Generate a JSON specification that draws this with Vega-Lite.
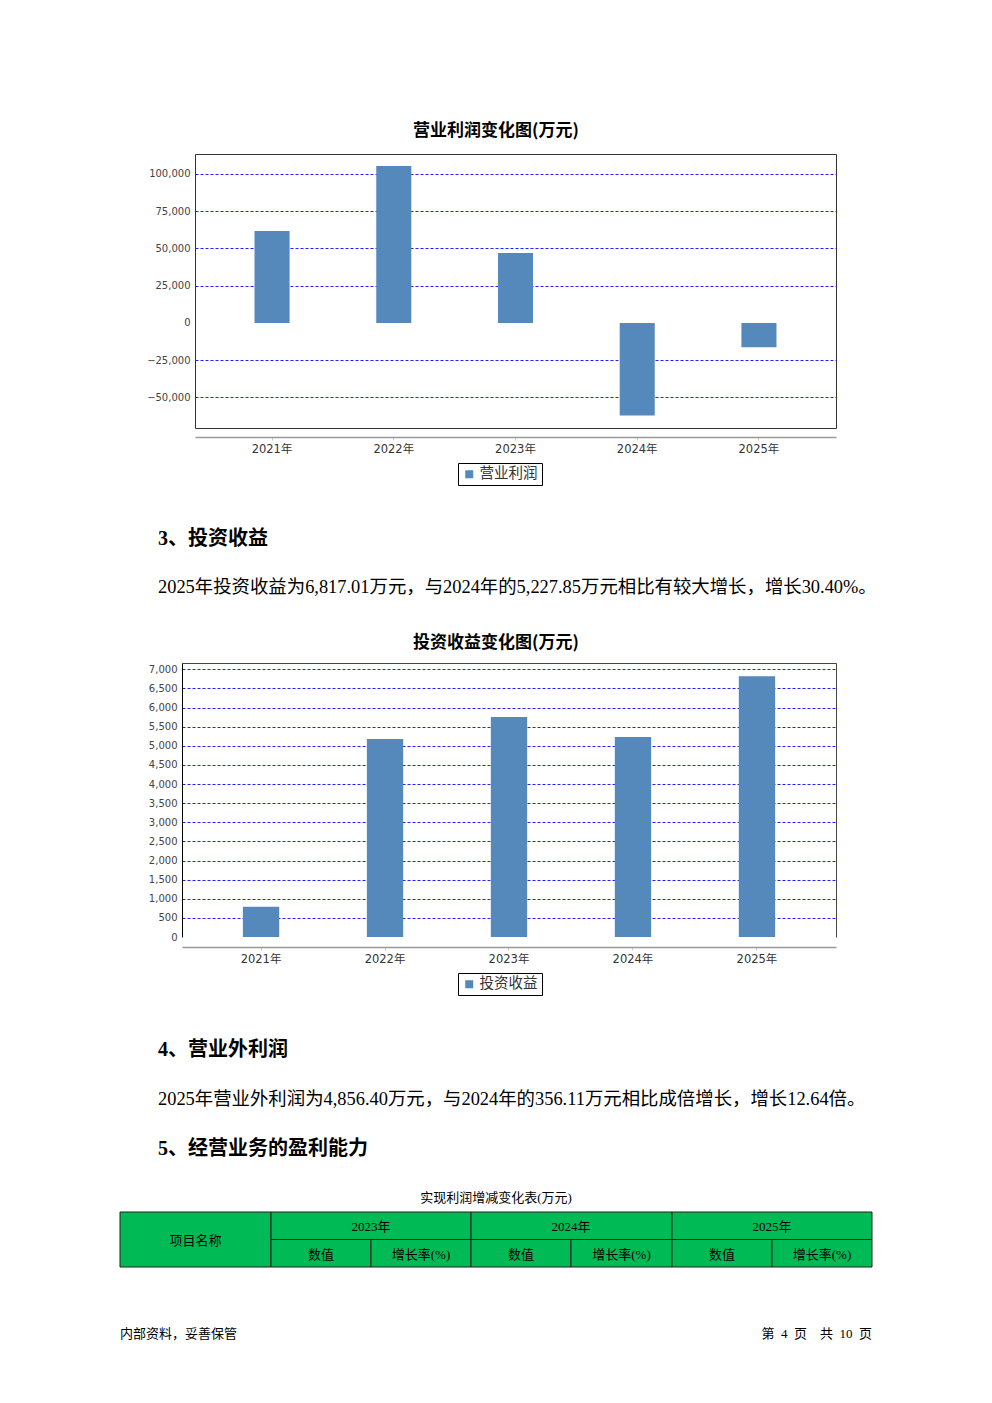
{
  "$schema": "https://vega.github.io/schema/vega-lite/v6.json",
  "padding": {"left": 119, "top": 121, "right": 0, "bottom": 0},
  "autosize": {"type": "pad"},
  "background": "white",
  "spacing": 0,
  "resolve": {"scale": {"color": "independent"}, "legend": {"color": "independent"}},
  "config": {
    "view": {"stroke": null},
    "font": "Noto Sans CJK SC",
    "title": {"color": "#000", "subtitleColor": "#000"},
    "axis": {"labelFont": "DejaVu Sans, Noto Sans CJK SC"}
  },
  "datasets": {
    "op": [
      {"year": "2021年", "value": 61700, "series": "营业利润"},
      {"year": "2022年", "value": 105400, "series": "营业利润"},
      {"year": "2023年", "value": 46900, "series": "营业利润"},
      {"year": "2024年", "value": -62000, "series": "营业利润"},
      {"year": "2025年", "value": -16300, "series": "营业利润"}
    ],
    "inv": [
      {"year": "2021年", "value": 790, "series": "投资收益"},
      {"year": "2022年", "value": 5180, "series": "投资收益"},
      {"year": "2023年", "value": 5750, "series": "投资收益"},
      {"year": "2024年", "value": 5227.85, "series": "投资收益"},
      {"year": "2025年", "value": 6817.01, "series": "投资收益"}
    ],
    "cells": [
      {"label": "项目名称", "c0": 0, "c1": 1, "r0": 0, "r1": 2},
      {"label": "2023年", "c0": 1, "c1": 3, "r0": 0, "r1": 1},
      {"label": "2024年", "c0": 3, "c1": 5, "r0": 0, "r1": 1},
      {"label": "2025年", "c0": 5, "c1": 7, "r0": 0, "r1": 1},
      {"label": "数值", "c0": 1, "c1": 2, "r0": 1, "r1": 2},
      {"label": "增长率(%)", "c0": 2, "c1": 3, "r0": 1, "r1": 2},
      {"label": "数值", "c0": 3, "c1": 4, "r0": 1, "r1": 2},
      {"label": "增长率(%)", "c0": 4, "c1": 5, "r0": 1, "r1": 2},
      {"label": "数值", "c0": 5, "c1": 6, "r0": 1, "r1": 2},
      {"label": "增长率(%)", "c0": 6, "c1": 7, "r0": 1, "r1": 2}
    ]
  },
  "vconcat": [
    {
      "width": 641,
      "height": 274,
      "view": {"stroke": "#333", "strokeWidth": 1},
      "title": {"text": "营业利润变化图(万元)", "fontSize": 17, "fontWeight": "bold", "anchor": "middle", "dx": -19.5, "offset": 14},
      "data": {"name": "op"},
      "mark": {"type": "bar", "color": "#5588bb"},
      "encoding": {
        "x": {
          "field": "year", "type": "nominal", "sort": null,
          "scale": {"paddingInner": 0.712, "paddingOuter": 0.489},
          "axis": {"title": null, "labelAngle": 0, "offset": 9, "domainColor": "#999", "domainWidth": 1.5, "tickColor": "#ccc", "tickSize": 3, "labelFontSize": 11.5, "labelColor": "#333", "labelPadding": 3}
        },
        "y": {
          "field": "value", "type": "quantitative",
          "scale": {"domain": [-70470, 113420], "nice": false, "zero": false},
          "axis": {
            "title": null, "values": [-50000, -25000, 0, 25000, 50000, 75000, 100000], "format": ",d",
            "labelFontSize": 10, "labelColor": "#444", "ticks": false, "labelPadding": 5, "domain": false,
            "grid": true, "gridColor": "#2222ff", "gridDash": [3, 2],
            "gridOpacity": {"condition": {"test": "datum.value === 0", "value": 0}, "value": 1},
            "minExtent": 74, "maxExtent": 74
          }
        },
        "y2": {"datum": 0},
        "color": {
          "field": "series", "type": "nominal", "scale": {"range": ["#5588bb"]},
          "legend": {"title": null, "orient": "none", "legendX": 263, "legendY": 309, "strokeColor": "#000", "padding": 4, "symbolType": "square", "symbolSize": 64, "symbolStrokeWidth": 0, "labelOffset": 3, "labelFontSize": 14.5, "labelColor": "#333", "labelFont": "Noto Sans CJK SC", "direction": "horizontal"}
        }
      }
    },
    {"width": 641, "height": 42, "data": {"values": []}, "mark": "point"},
    {
      "width": 641, "height": 34,
      "data": {"values": []}, "mark": "point",
      "title": {
        "text": "3、投资收益",
        "subtitle": "2025年投资收益为6,817.01万元，与2024年的5,227.85万元相比有较大增长，增长30.40%。",
        "anchor": "start", "frame": "group", "dx": -37, "offset": 4,
        "font": "Liberation Serif, Noto Sans CJK SC", "fontSize": 20, "fontWeight": "bold",
        "subtitleFont": "Liberation Serif, Noto Sans CJK SC", "subtitleFontSize": 18.4, "subtitlePadding": 29
      }
    },
    {
      "width": 641,
      "height": 274,
      "title": {"text": "投资收益变化图(万元)", "fontSize": 17, "fontWeight": "bold", "anchor": "middle", "dx": -19.5, "offset": 11},
      "data": {"name": "inv"},
      "layer": [
        {
          "mark": {"type": "bar", "color": "#5588bb"},
          "encoding": {
            "x": {
              "field": "year", "type": "nominal", "sort": null,
              "scale": {"range": [-13, 641], "paddingInner": 0.707, "paddingOuter": 0.491},
              "axis": {"title": null, "labelAngle": 0, "offset": 10, "domainColor": "#999", "domainWidth": 1.5, "tickColor": "#ccc", "tickSize": 3, "labelFontSize": 11.5, "labelColor": "#333", "labelPadding": 3}
            },
            "y": {
              "field": "value", "type": "quantitative",
              "scale": {"domain": [0, 7165], "nice": false, "zero": false},
              "axis": {
                "title": null, "offset": 13, "values": [0, 500, 1000, 1500, 2000, 2500, 3000, 3500, 4000, 4500, 5000, 5500, 6000, 6500, 7000], "format": ",d",
                "labelFontSize": 10, "labelColor": "#444", "ticks": false, "labelPadding": 5, "domain": true, "domainColor": "#000",
                "grid": true, "gridColor": "#2222ff", "gridDash": [3, 2],
                "gridOpacity": {"condition": {"test": "datum.value === 0", "value": 0}, "value": 1},
                "minExtent": 0, "maxExtent": 60
              }
            },
            "y2": {"datum": 0},
            "color": {
              "field": "series", "type": "nominal", "scale": {"range": ["#5588bb"]},
              "legend": {"title": null, "orient": "none", "legendX": 263, "legendY": 310, "strokeColor": "#000", "padding": 4, "symbolType": "square", "symbolSize": 64, "symbolStrokeWidth": 0, "labelOffset": 3, "labelFontSize": 14.5, "labelColor": "#333", "labelFont": "Noto Sans CJK SC", "direction": "horizontal"}
            }
          }
        },
        {
          "mark": {"type": "bar", "opacity": 0},
          "encoding": {
            "x": {"field": "year", "type": "nominal", "sort": null, "axis": {"orient": "top", "title": null, "labels": false, "ticks": false, "grid": false, "domain": true, "domainColor": "#444", "minExtent": 0, "maxExtent": 0}},
            "y": {"field": "value", "type": "quantitative", "axis": {"orient": "right", "title": null, "labels": false, "ticks": false, "grid": false, "domain": true, "domainColor": "#444", "minExtent": 0, "maxExtent": 0}},
            "y2": {"datum": 0}
          }
        }
      ],
      "resolve": {"axis": {"x": "independent", "y": "independent"}}
    },
    {"width": 641, "height": 43, "data": {"values": []}, "mark": "point"},
    {
      "width": 641, "height": 27,
      "data": {"values": []}, "mark": "point",
      "title": {
        "text": "4、营业外利润",
        "subtitle": "2025年营业外利润为4,856.40万元，与2024年的356.11万元相比成倍增长，增长12.64倍。",
        "anchor": "start", "frame": "group", "dx": -37, "offset": 4,
        "font": "Liberation Serif, Noto Sans CJK SC", "fontSize": 20, "fontWeight": "bold",
        "subtitleFont": "Liberation Serif, Noto Sans CJK SC", "subtitleFontSize": 18.4, "subtitlePadding": 30
      }
    },
    {
      "width": 641, "height": 28,
      "data": {"values": []}, "mark": "point",
      "title": {
        "text": "5、经营业务的盈利能力",
        "anchor": "start", "frame": "group", "dx": -37, "offset": 4,
        "font": "Liberation Serif, Noto Sans CJK SC", "fontSize": 20, "fontWeight": "bold"
      }
    },
    {
      "width": 677, "height": 55,
      "title": {"text": "实现利润增减变化表(万元)", "font": "Liberation Serif, Noto Sans CJK SC", "fontSize": 13, "fontWeight": "normal", "anchor": "middle", "dx": -37.5, "offset": 7},
      "data": {"name": "cells"},
      "layer": [
        {
          "mark": {"type": "rect", "fill": "#00bb55", "stroke": "#222", "strokeWidth": 1},
          "encoding": {
            "x": {"field": "c0", "type": "quantitative", "scale": {"domain": [0, 1, 2, 3, 4, 5, 6, 7], "range": [-75, 76, 176, 276, 376, 477, 577, 677]}, "axis": null},
            "x2": {"field": "c1"},
            "y": {"field": "r0", "type": "quantitative", "scale": {"domain": [0, 2], "range": [0, 55]}, "axis": null},
            "y2": {"field": "r1"}
          }
        },
        {
          "transform": [
            {"calculate": "(datum.c0 + datum.c1) / 2", "as": "cm"},
            {"calculate": "(datum.r0 + datum.r1) / 2", "as": "rm"}
          ],
          "mark": {"type": "text", "font": "Liberation Serif, Noto Sans CJK SC", "fontSize": 13, "color": "#000", "dy": 1.5},
          "encoding": {
            "x": {"field": "cm", "type": "quantitative"},
            "y": {"field": "rm", "type": "quantitative"},
            "text": {"field": "label"}
          }
        }
      ]
    },
    {
      "width": 677, "height": 132,
      "layer": [
        {
          "data": {"values": [{"side": "left", "text": "内部资料，妥善保管"}]},
          "mark": {"type": "text", "align": "left", "font": "Liberation Serif, Noto Sans CJK SC", "fontSize": 13, "color": "#000"},
          "encoding": {
            "x": {"field": "side", "type": "nominal", "scale": {"type": "point", "domain": ["left", "right"], "range": [-75, 677], "padding": 0}, "axis": null},
            "text": {"field": "text"}
          }
        },
        {
          "data": {"values": [{"side": "right", "text": "第\u20024\u2002页\u2003共\u200210\u2002页"}]},
          "mark": {"type": "text", "align": "right", "font": "Liberation Serif, Noto Sans CJK SC", "fontSize": 13, "color": "#000"},
          "encoding": {
            "x": {"field": "side", "type": "nominal", "scale": {"type": "point", "domain": ["left", "right"], "range": [-75, 677], "padding": 0}, "axis": null},
            "text": {"field": "text"}
          }
        }
      ]
    }
  ]
}
